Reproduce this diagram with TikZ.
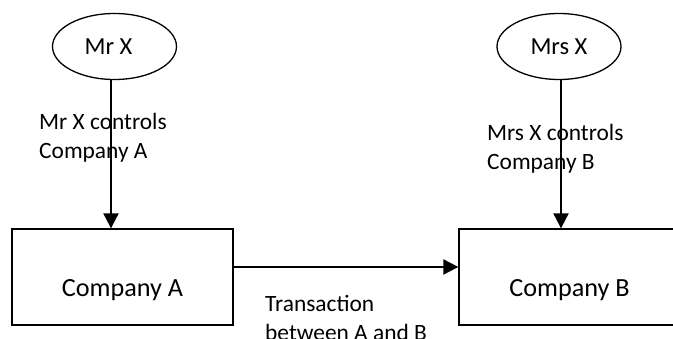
\documentclass[tikz,border=0pt]{standalone}
\usepackage{fontspec}
\setmainfont{Carlito}
\usetikzlibrary{arrows.meta}
\usetikzlibrary{shapes.geometric}
\usetikzlibrary{positioning}

\begin{document}
\begin{tikzpicture}[x=1pt,y=-1pt,>={Triangle[length=15pt,width=15pt]},
 every node/.style={font=\fontsize{24.5}{29}\selectfont},
 person/.style={ellipse,draw,line width=1.3pt,minimum width=124pt,minimum height=66pt,inner sep=0pt},
 company/.style={rectangle,draw,line width=1.3pt,minimum width=221pt,minimum height=96pt,
  text height=40pt,text depth=0pt,inner sep=0pt,font=\fontsize{26.2}{31}\selectfont},
 link/.style={->,line width=2pt},
 note/.style={align=left,anchor=base west,inner sep=0pt,font=\fontsize{23.4}{29}\selectfont}]
    \useasboundingbox (0,0) rectangle (673,339);
    % pessoas e empresas
    \node[person] (mrx) at (114.5,46.5) {Mr X\kern12pt};
    \node[person] (mrsx) at (559,46.5) {Mrs X};
    \node[company] (compa) at (122.5,277) {Company A};
    \node[company] (compb) at (569.5,277) {Company B};
    % textos das setas (base = ultima linha)
    \node[note] (ctrla) at (39,159) {Mr X controls\\Company A};
    \node[note] (ctrlb) at (487,170) {Mrs X controls\\Company B};
    \node[note] (deal) at (265,341) {Transaction\\between A and B};
    % setas: controle e transacao
    \draw[link] ([xshift=-3.5pt]mrx.south) -- ([xshift=-3.5pt]mrx.south |- compa.north);
    \draw[link] ([xshift=2pt]mrsx.south) -- ([xshift=2pt]mrsx.south |- compb.north);
    \draw[link] ([yshift=10pt]compa.east) -- ([yshift=10pt]compa.east -| compb.west);
\end{tikzpicture}
\end{document}
